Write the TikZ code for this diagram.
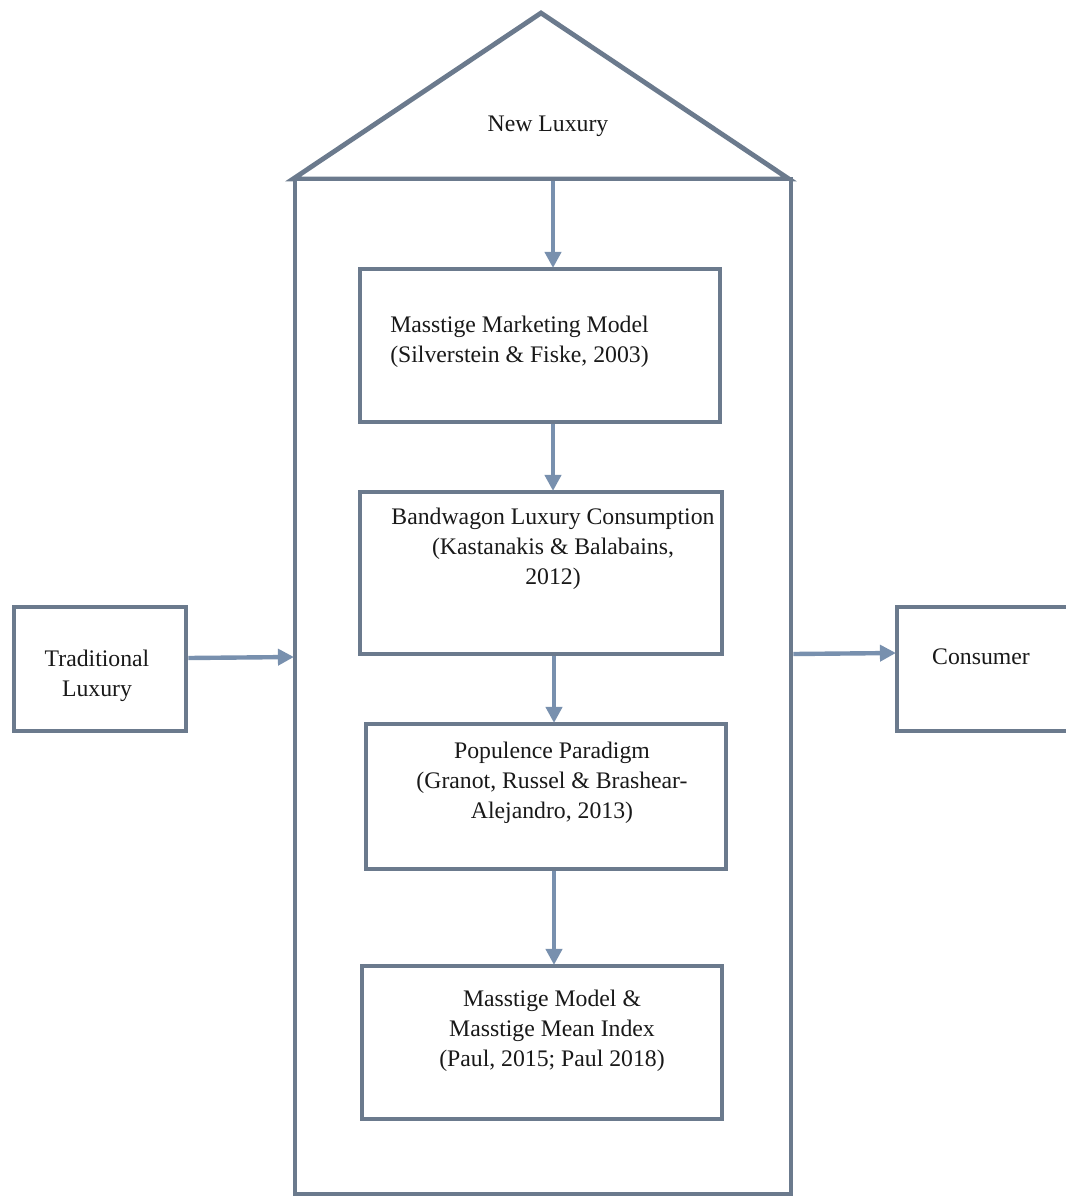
\documentclass[tikz,border=0pt]{standalone}
\usepackage{fontspec}
\setmainfont{Liberation Serif}
\usetikzlibrary{arrows.meta}
\definecolor{frame}{HTML}{6B7A8D}
\definecolor{flow}{HTML}{7890AE}
\tikzset{
  box/.style={draw=frame, line width=3.6pt, rectangle, inner sep=0pt, fill=white},
  lbl/.style={font=\fontsize{17.8}{22.5}\selectfont, text=black!90, inner sep=0pt},
  flowarrow/.style={draw=flow, line width=3.3pt,
    -{Triangle[width=12pt,length=12pt]}, shorten >=-1pt},
}
% a box given by its left, top, right and bottom border lines (pixel grid, y downwards)
\newcommand\pixbox[5]{%
  \node[box, minimum width={(#4-#2)*0.75pt}, minimum height={(#5-#3)*0.75pt}]
    (#1) at ({(#2+#4)/2},{(#3+#5)/2}) {};}
\begin{document}
\begin{tikzpicture}[x=0.75pt, y=-0.75pt]
  \useasboundingbox (0,0) rectangle (1065,1197);
  \fill[white] (0,0) rectangle (1065,1197);

  % house: roof and body
  \draw[frame, line width=3.6pt, line join=miter] (293,179) -- (541,13) -- (789,179) -- cycle;
  \pixbox{house}{295}{179}{791}{1194}
  \node[lbl] (newlux) at (548,126) {New Luxury};

  % stages inside the house
  \pixbox{mmm}{360}{269}{720}{422}
  \pixbox{blc}{360}{492}{722}{654}
  \pixbox{pop}{366}{724}{726}{869}
  \pixbox{mmi}{362}{966}{722}{1119}

  \node[lbl, anchor=west, align=left] (mmmtxt) at (390,342)
    {Masstige Marketing Model\\(Silverstein \& Fiske, 2003)};
  \node[lbl, align=center] (blctxt) at (553,549)
    {Bandwagon Luxury Consumption\\(Kastanakis \& Balabains,\\2012)};
  \node[lbl, align=center] (poptxt) at (552,783)
    {Populence Paradigm\\(Granot, Russel \& Brashear-\\Alejandro, 2013)};
  \node[lbl, align=center] (mmitxt) at (552,1031)
    {Masstige Model \&\\Masstige Mean Index\\(Paul, 2015; Paul 2018)};

  % side boxes
  \pixbox{trad}{14}{607}{186}{731}
  \node[lbl, align=center] (tradtxt) at (97,676) {Traditional\\Luxury};
  \pixbox{cons}{897}{607}{1080}{731}
  \node[lbl] (constxt) at (981,657) {Consumer};

  % flow
  \coordinate (roofbase) at (553,181);
  \draw[flowarrow] (roofbase) -- (roofbase |- mmm.north);
  \draw[flowarrow] (mmm.south -| roofbase) -- (roofbase |- blc.north);
  \draw[flowarrow] ([xshift=0.75pt]blc.south -| roofbase) -- ([xshift=0.75pt]roofbase |- pop.north);
  \draw[flowarrow] ([xshift=0.75pt]pop.south -| roofbase) -- ([xshift=0.75pt]roofbase |- mmi.north);
  \draw[flowarrow] ([yshift=8.25pt]trad.east) -- ([yshift=9pt]trad.east -| house.west);
  \draw[flowarrow] ([yshift=11.25pt]house.east |- cons.west) -- ([yshift=12pt]cons.west);
\end{tikzpicture}
\end{document}
